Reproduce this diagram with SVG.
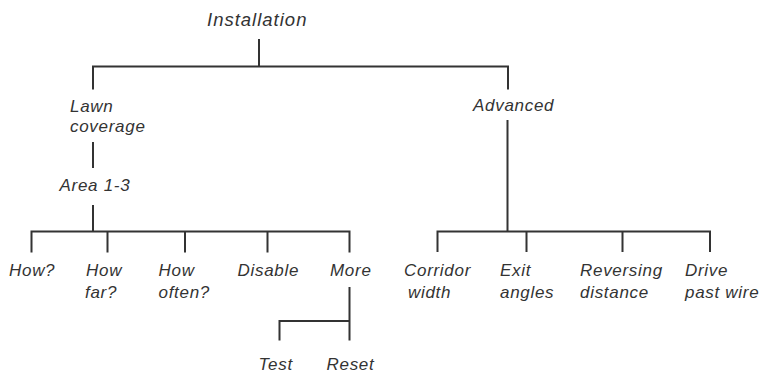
<svg xmlns="http://www.w3.org/2000/svg" width="765" height="377" viewBox="0 0 765 377">
<style>
  .t { font-family: "Liberation Sans", Arial, sans-serif; font-style: italic; font-size: 17px; fill: #333; letter-spacing: 0.7px; }
  .root { font-size: 18.5px; letter-spacing: 1px; }
  .c { fill: none; stroke: #333; stroke-width: 2; }
</style>
<rect width="765" height="377" fill="#fff"/>
<g id="connectors" class="c">
  <path d="M259,39 V66.5 M93,66.5 H508 M93,65.5 V89.5 M508,65.5 V89.5"/>
  <path d="M93,142 V168"/>
  <path d="M93,205 V231.5 M31.5,231.5 H349.5 M31.5,230.5 V252.5 M107.5,230.5 V252.5 M185,230.5 V252.5 M267.5,230.5 V252.5 M349.5,230.5 V252.5"/>
  <path d="M349.5,287 V340.5 M279.5,321 H349.5 M279.5,320 V340.5"/>
  <path d="M507.5,120 V231.5 M437.5,231.5 H710 M437.5,230.5 V252 M526.5,230.5 V252 M622.5,230.5 V252 M710,230.5 V252"/>
</g>
<g id="installation"><text class="t root" x="207" y="26">Installation</text></g>
<g id="lawn-coverage"><text class="t" x="70" y="111.5">Lawn</text><text class="t" x="70" y="131.5">coverage</text></g>
<g id="advanced"><text class="t" x="473" y="111">Advanced</text></g>
<g id="area"><text class="t" x="59.5" y="190.5">Area 1-3</text></g>
<g id="how"><text class="t" x="9" y="276">How?</text></g>
<g id="how-far"><text class="t" x="86" y="276">How</text><text class="t" x="85" y="297.5">far?</text></g>
<g id="how-often"><text class="t" x="158.5" y="276">How</text><text class="t" x="158.5" y="297.5">often?</text></g>
<g id="disable"><text class="t" x="237.5" y="276">Disable</text></g>
<g id="more"><text class="t" x="330" y="276">More</text></g>
<g id="test"><text class="t" x="258.5" y="370">Test</text></g>
<g id="reset"><text class="t" x="326.5" y="370">Reset</text></g>
<g id="corridor-width"><text class="t" x="404" y="276">Corridor</text><text class="t" x="408" y="297.5">width</text></g>
<g id="exit-angles"><text class="t" x="500" y="276">Exit</text><text class="t" x="500" y="297.5">angles</text></g>
<g id="reversing-distance"><text class="t" x="580" y="276">Reversing</text><text class="t" x="580" y="297.5">distance</text></g>
<g id="drive-past-wire"><text class="t" x="685" y="276">Drive</text><text class="t" x="685" y="297.5">past wire</text></g>
</svg>
